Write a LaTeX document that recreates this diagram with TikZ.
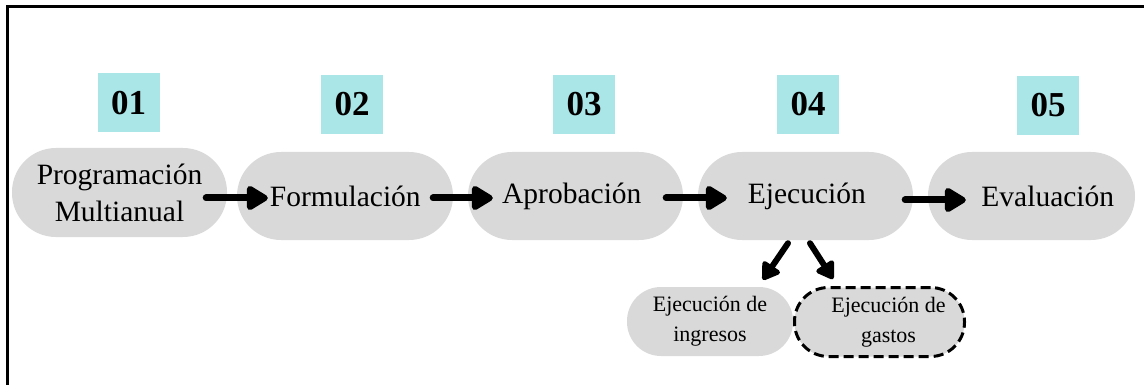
\documentclass[tikz,border=0pt]{standalone}
\usepackage{fontspec}
\setmainfont{Liberation Serif}
\usetikzlibrary{arrows.meta}
\definecolor{gris}{RGB}{217,217,217}
\definecolor{celeste}{RGB}{170,229,231}

\begin{document}
\begin{tikzpicture}[x=1pt,y=-1pt,
    etapa/.style={fill=gris,rounded corners=44pt,minimum width=215pt,minimum height=88pt,inner sep=0pt,align=center,font=\fontsize{29.5}{37}\selectfont},
    sub/.style={fill=gris,rounded corners=34pt,minimum width=166pt,minimum height=69pt,inner sep=0pt,align=center,font=\fontsize{22}{30}\selectfont},
    num/.style={fill=celeste,minimum width=62pt,minimum height=59pt,inner sep=0pt,font=\fontsize{35}{35}\selectfont\bfseries},
    flecha/.style={line width=7pt,line cap=round,-{Triangle[length=24pt,width=27pt,round]}},
    flechab/.style={line width=6pt,line cap=round,-{Triangle[length=19pt,width=23pt,round]}}]
      \useasboundingbox (0,0) rectangle (1144,385) ;
      \draw[line width=3pt] (7,385) -- (7,7) -- (1144,7) ;

      \node[etapa,minimum height=89pt] (P) at ( 119.5,192.5) { Programación\\Multianual } ;
      \node[etapa,minimum width=216pt] (F) at ( 345,196) { \hspace*{8pt}Formulación } ;
      \node[etapa] (A) at ( 575.5,196) { Aprobación } ;
      \node[etapa] (E) at ( 805.5,196) { \hspace*{10pt}Ejecución } ;
      \node[etapa,minimum width=207pt] (V) at (1031.5,196) { \hspace*{40pt}Evaluación } ;

      \node[num] (N1) at ( 128.5,103) { 01 } ;
      \node[num] (N2) at ( 352,104.5) { 02 } ;
      \node[num] (N3) at ( 584,104.5) { 03 } ;
      \node[num] (N4) at ( 808,104.5) { 04 } ;
      \node[num] (N5) at (1048,105.5) { 05 } ;

      \node[sub] (I) at ( 710,321.5) { Ejecución de\\ingresos } ;
      \node[sub,draw,line width=3pt,dash pattern=on 10pt off 5pt,minimum width=170pt] (G) at ( 879.5,322) { \hspace*{18pt}Ejecución de\\\hspace*{18pt}gastos } ;

      \draw[flecha] ([shift={(-21,5.5)}]P.east) -- ([shift={(31,2)}]F.west) ;
      \draw[flecha] ([shift={(-20,2)}]F.east) -- ([shift={(25,2)}]A.west) ;
      \draw[flecha] ([shift={(-17,2)}]A.east) -- ([shift={(29,2)}]E.west) ;
      \draw[flecha] ([shift={(-8,4)}]E.east) -- ([shift={(38,4)}]V.west) ;
      \draw[flechab] ([shift={(-17.5,3)}]E.south) -- ([shift={(53,-7)}]I.north) ;
      \draw[flechab] ([shift={(4.5,3)}]E.south) -- ([shift={(-46.5,-7)}]G.north) ;
    \end{tikzpicture}
\end{document}
